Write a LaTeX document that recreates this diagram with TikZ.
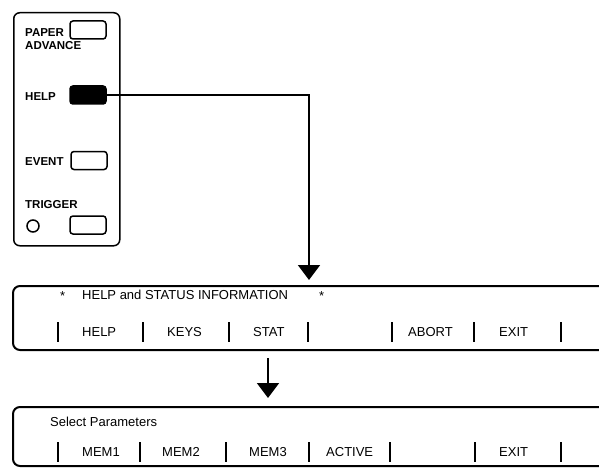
\documentclass[tikz,border=0pt]{standalone}
\usepackage{fontspec}
\setmainfont{Liberation Sans}
\usetikzlibrary{arrows.meta}
\begin{document}
\begin{tikzpicture}[x=1pt,y=-1pt,
  lbl/.style={font=\fontsize{11.5}{12}\selectfont\bfseries, anchor=west, inner sep=0},
  btn/.style={draw, line width=1.5pt, rounded corners=3pt, minimum width=36pt, minimum height=18pt, inner sep=0},
  scr/.style={font=\fontsize{13}{14}\selectfont, anchor=west, inner sep=0},
  bar/.style={line width=2.2pt},
  frame/.style={line width=2pt, rounded corners=7pt},
  conn/.style={line width=1.8pt, -{Triangle[width=22pt,length=15pt]}}
]
\useasboundingbox (0,0) rectangle (599,468);

% control panel
\node[draw, line width=1.5pt, rounded corners=6pt, minimum width=106pt, minimum height=233pt, inner sep=0, anchor=north west] (panel) at (13,12) {};
\node[btn] (bpaper) at (88,30) {};
\node[btn, fill=black] (bhelp) at (88,95) {};
\node[btn] (bevent) at (89,160.5) {};
\node[btn] (btrig) at (88,225) {};
\node[draw, circle, line width=1.5pt, minimum size=12pt, inner sep=0] (ctrig) at (33,226) {};

\node[lbl] (tpaper) at (25,33) {PAPER};
\node[lbl] (tadv) at (25,46) {ADVANCE};
\node[lbl] (thelp) at (25,97) {HELP};
\node[lbl] (tevent) at (25,162) {EVENT};
\node[lbl] (ttrig) at (25,205) {TRIGGER};

% screen 1
\draw[frame] (610,286) -- (13,286) -- (13,350) -- (610,350);
\node[scr] (s1a) at (60,296) {*};
\node[scr] (s1t) at (82,295) {HELP and STATUS INFORMATION};
\node[scr] (s1b) at (319,296) {*};
\foreach \x in {58,143,229,308,392,474,561} \draw[bar] (\x,322) -- (\x,342);
\node[scr] (k1) at (82,332) {HELP};
\node[scr] (k2) at (167,332) {KEYS};
\node[scr] (k3) at (253,332) {STAT};
\node[scr] (k4) at (408,332) {ABORT};
\node[scr] (k5) at (499,332) {EXIT};

% screen 2
\draw[frame] (610,407) -- (13,407) -- (13,466) -- (610,466);
\node[scr] (s2t) at (50,422) {Select Parameters};
\foreach \x in {58,140,226,309,390,475,561} \draw[bar] (\x,442) -- (\x,462);
\node[scr] (m1) at (82,452) {MEM1};
\node[scr] (m2) at (162,452) {MEM2};
\node[scr] (m3) at (249,452) {MEM3};
\node[scr] (m4) at (326,452) {ACTIVE};
\node[scr] (m5) at (499,452) {EXIT};

% connectors
\coordinate (a1end) at (309,280);
\draw[conn] (bhelp.east) -| (a1end);
\coordinate (a2s) at (268,358);
\coordinate (a2e) at (268,398);
\draw[conn] (a2s) -- (a2e);
\end{tikzpicture}
\end{document}
